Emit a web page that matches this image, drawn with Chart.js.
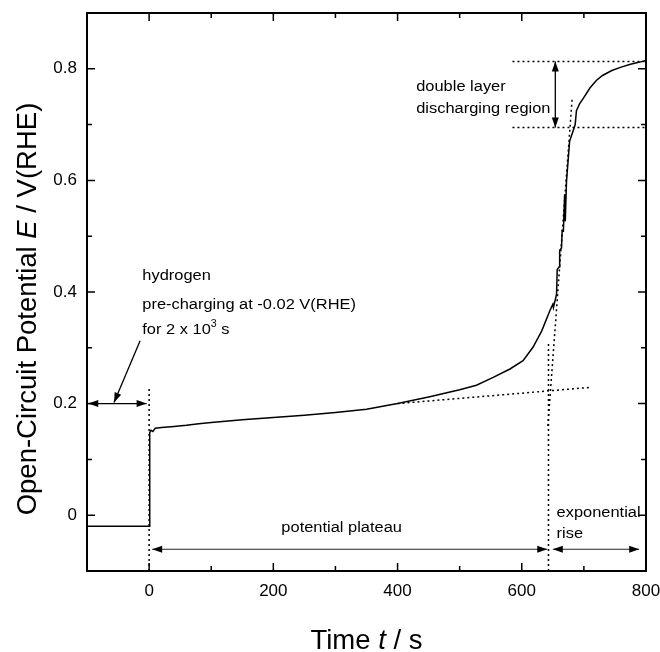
<!DOCTYPE html>
<html>
<head>
<meta charset="utf-8">
<script src="https://cdn.jsdelivr.net/npm/chart.js@4.4.0/dist/chart.umd.min.js"></script>
<style>
  html, body { margin: 0; padding: 0; background: #fff; }
  #wrap { width: 660px; height: 652px; }
</style>
</head>
<body>
<div id="wrap"><canvas id="ocp-chart"></canvas></div>
<script>
// --- data ---
const timeS = [-100, 0, 1, 3, 6, 10, 20, 40, 60, 80, 100, 150, 200, 250, 300, 350, 400, 450, 500, 527, 554, 581, 602,
  618, 632, 645, 650, 651, 656, 657, 660, 661, 664, 665, 667, 669, 670, 672, 677, 683, 686, 688, 693, 699, 710, 720,
  730, 745, 760, 775, 790, 800];
const potentialV = [-0.02, -0.02, 0.148, 0.152, 0.150, 0.156, 0.157, 0.159, 0.161, 0.164, 0.166, 0.171, 0.175, 0.179,
  0.184, 0.190, 0.200, 0.212, 0.225, 0.233, 0.247, 0.262, 0.277, 0.301, 0.330, 0.366, 0.378, 0.372, 0.396, 0.440,
  0.445, 0.475, 0.479, 0.510, 0.509, 0.575, 0.527, 0.598, 0.670, 0.690, 0.700, 0.725, 0.737, 0.747, 0.766, 0.779,
  0.788, 0.797, 0.803, 0.808, 0.812, 0.815];

const xTickLabels = [0, 200, 400, 600, 800];
const yTickLabels = [0, 0.2, 0.4, 0.6, 0.8];

// construction lines (dotted), in data units [t, E]
const dottedLines = [
  [[0, -0.1], [0, 0.227]],
  [[400, 0.2], [710, 0.229]],
  [[643, -0.1], [643, 0.31]],
  [[642, 0.16], [681, 0.745]],
  [[585, 0.813], [800, 0.813]],
  [[585, 0.695], [800, 0.695]]
];

// arrows, in data units
const arrowLines = [
  { from: [-14.5, 0.3125], to: [-56.5, 0.202], heads: 'end' },
  { from: [-98, 0.2], to: [-4, 0.2], heads: 'both' },
  { from: [654, 0.813], to: [654, 0.695], heads: 'both' },
  { from: [5, -0.061], to: [641, -0.061], heads: 'both', thin: true },
  { from: [650, -0.061], to: [789, -0.061], heads: 'both', thin: true }
];

// text notes: anchor (baseline) in data units
const notes = [
  { at: [-11, 0.421], parts: [['hydrogen']] },
  { at: [-11, 0.370], parts: [['pre-charging at -0.02 V(RHE)']] },
  { at: [-11, 0.325], parts: [['for 2 x 10'], ['3', 'sup'], [' s']] },
  { at: [430, 0.761], parts: [['double layer']] },
  { at: [430, 0.721], parts: [['discharging region']] },
  { at: [310, -0.030], parts: [['potential plateau']], align: 'center' },
  { at: [656, -0.004], parts: [['exponential']] },
  { at: [656, -0.041], parts: [['rise']] }
];

const FONT = "'Liberation Sans', Arial, Helvetica, sans-serif";

// --- helpers ---
// draws mixed normal / italic / superscript runs; stretch widens the glyphs like the scanned figure
function drawRich(ctx, parts, x, y, size, align, stretch = 1) {
  const fontFor = (style) => {
    if (style === 'italic') return `italic ${size}px ${FONT}`;
    if (style === 'sup') return `${Math.round(size * 0.65)}px ${FONT}`;
    return `${size}px ${FONT}`;
  };
  let total = 0;
  parts.forEach(([txt, style]) => { ctx.font = fontFor(style); total += ctx.measureText(txt).width; });
  ctx.save();
  ctx.translate(x, y);
  ctx.scale(stretch, 1);
  let cx = align === 'center' ? -total / 2 : 0;
  ctx.textAlign = 'left';
  ctx.textBaseline = 'alphabetic';
  parts.forEach(([txt, style]) => {
    ctx.font = fontFor(style);
    const dy = style === 'sup' ? -size * 0.45 : 0;
    ctx.fillText(txt, cx, dy);
    cx += ctx.measureText(txt).width;
  });
  ctx.restore();
}

function arrowHead(ctx, x0, y0, x1, y1) {
  // head at (x1, y1) pointing away from (x0, y0)
  const ang = Math.atan2(y1 - y0, x1 - x0);
  const len = 10, half = 3.5;
  ctx.beginPath();
  ctx.moveTo(x1, y1);
  ctx.lineTo(x1 - len * Math.cos(ang) + half * Math.sin(ang), y1 - len * Math.sin(ang) - half * Math.cos(ang));
  ctx.lineTo(x1 - len * Math.cos(ang) - half * Math.sin(ang), y1 - len * Math.sin(ang) + half * Math.cos(ang));
  ctx.closePath();
  ctx.fill();
}

// no extra room for overhanging tick labels: the frame sits where the figure has it
const fixSize = (w, h) => (s) => {
  if (w !== null) s.width = w;
  if (h !== null) s.height = h;
  s.paddingLeft = 0; s.paddingRight = 0; s.paddingTop = 0; s.paddingBottom = 0;
};

const figurePlugin = {
  id: 'figureExtras',
  afterDatasetsDraw(chart) {
    const { ctx, chartArea: a, scales } = chart;
    const px = t => scales.x.getPixelForValue(t);
    const py = v => scales.y.getPixelForValue(v);
    ctx.save();
    ctx.strokeStyle = '#000';
    ctx.fillStyle = '#000';

    // dotted construction lines
    ctx.lineWidth = 1.5;
    ctx.setLineDash([2, 3]);
    dottedLines.forEach(pts => {
      ctx.beginPath();
      pts.forEach(([t, v], i) => i ? ctx.lineTo(px(t), py(v)) : ctx.moveTo(px(t), py(v)));
      ctx.stroke();
    });
    ctx.setLineDash([]);

    // arrows
    arrowLines.forEach(ar => {
      const x0 = px(ar.from[0]), y0 = py(ar.from[1]);
      const x1 = px(ar.to[0]), y1 = py(ar.to[1]);
      ctx.lineWidth = ar.thin ? 1 : 1.3;
      ctx.strokeStyle = ar.thin ? '#222' : '#000';
      ctx.beginPath(); ctx.moveTo(x0, y0); ctx.lineTo(x1, y1); ctx.stroke();
      arrowHead(ctx, x0, y0, x1, y1);
      if (ar.heads === 'both') arrowHead(ctx, x1, y1, x0, y0);
    });

    // notes
    notes.forEach(n => drawRich(ctx, n.parts, px(n.at[0]), py(n.at[1]), 15.5, n.align || 'left', 1.06));

    // frame
    ctx.strokeStyle = '#000';
    ctx.lineWidth = 2;
    ctx.strokeRect(a.left, a.top, a.right - a.left, a.bottom - a.top);

    // inward ticks on all four sides
    ctx.lineWidth = 1.5;
    ctx.beginPath();
    scales.x.ticks.forEach(tk => {
      const x = px(tk.value);
      const len = xTickLabels.includes(tk.value) ? 8 : 5;
      ctx.moveTo(x, a.bottom); ctx.lineTo(x, a.bottom - len);
      ctx.moveTo(x, a.top); ctx.lineTo(x, a.top + len);
    });
    scales.y.ticks.forEach(tk => {
      const v = Math.round(tk.value * 10) / 10;
      const y = py(tk.value);
      const len = yTickLabels.includes(v) ? 8 : 5;
      ctx.moveTo(a.left, y); ctx.lineTo(a.left + len, y);
      ctx.moveTo(a.right, y); ctx.lineTo(a.right - len, y);
    });
    ctx.stroke();

    // axis titles
    const cx = (a.left + a.right) / 2;
    drawRich(ctx, [['Time '], ['t', 'italic'], [' / s']], cx, 649, 27.5, 'center');
    ctx.translate(36, 309);
    ctx.rotate(-Math.PI / 2);
    drawRich(ctx, [['Open-Circuit Potential '], ['E', 'italic'], [' / V(RHE)']], 0, 0, 27.5, 'center');
    ctx.restore();
  }
};

new Chart(document.getElementById('ocp-chart'), {
  type: 'line',
  data: {
    datasets: [{
      data: timeS.map((t, i) => ({ x: t, y: potentialV[i] })),
      borderColor: '#000',
      borderWidth: 1.5,
      pointRadius: 0,
      tension: 0,
      fill: false
    }]
  },
  options: {
    responsive: true,
    maintainAspectRatio: false,
    animation: false,
    layout: { padding: 0 },
    plugins: { legend: { display: false }, tooltip: { enabled: false } },
    scales: {
      x: {
        type: 'linear', position: 'bottom', min: -100, max: 800,
        grid: { display: false, drawTicks: false }, border: { display: false },
        ticks: {
          stepSize: 100, autoSkip: false, maxRotation: 0, padding: 10, color: '#000',
          font: { family: FONT, size: 17 },
          callback: (v) => xTickLabels.includes(v) ? String(v) : ''
        },
        afterFit: fixSize(null, 81)
      },
      xTop: {
        type: 'linear', position: 'top', min: -100, max: 800,
        grid: { display: false, drawTicks: false }, border: { display: false },
        ticks: { display: false },
        afterFit: fixSize(null, 13)
      },
      y: {
        type: 'linear', position: 'left', min: -0.1, max: 0.9,
        grid: { display: false, drawTicks: false }, border: { display: false },
        ticks: {
          stepSize: 0.1, autoSkip: false, padding: 10, color: '#000',
          font: { family: FONT, size: 17 },
          callback: (v) => {
            const r = Math.round(v * 10) / 10;
            if (!yTickLabels.includes(r)) return '';
            return r === 0 ? '0' : r.toFixed(1);
          }
        },
        afterFit: fixSize(87, null)
      },
      yRight: {
        type: 'linear', position: 'right', min: -0.1, max: 0.9,
        grid: { display: false, drawTicks: false }, border: { display: false },
        ticks: { display: false },
        afterFit: fixSize(14, null)
      }
    }
  },
  plugins: [figurePlugin]
});
</script>
</body>
</html>
